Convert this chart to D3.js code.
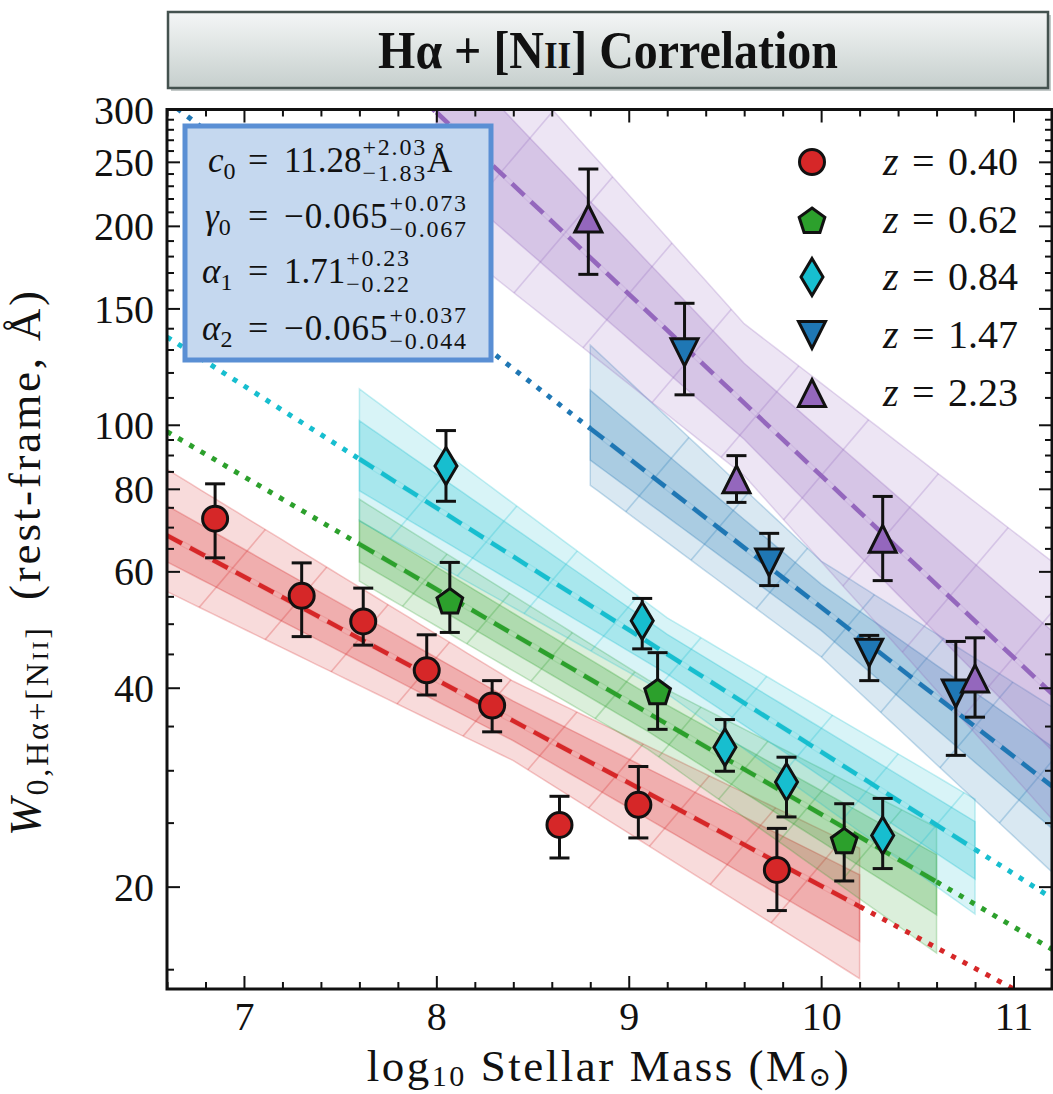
<!DOCTYPE html>
<html>
<head>
<meta charset="utf-8">
<script src="https://cdn.jsdelivr.net/npm/d3@7"></script>
<style>
  body { margin: 0; background: #fff; }
  svg { display: block; }
  text { font-family: "Liberation Serif", "DejaVu Serif", serif; fill: #111; }
</style>
</head>
<body>
<svg id="chart" width="1053" height="1094"></svg>
<script>
// ---------- data ----------
const redshifts = [0.40, 0.62, 0.84, 1.47, 2.23];
const legendLabels = ["0.40", "0.62", "0.84", "1.47", "2.23"];

// binned measurements: log10 stellar mass, equivalent width and its error range (Å)
const massZ040 = [6.85, 7.30, 7.62, 7.95, 8.29, 8.64, 9.05, 9.77];
const ewZ040   = [72.1, 55.1, 50.4, 42.5, 37.6, 24.8, 26.6, 21.2];
const ewHiZ040 = [81.4, 61.8, 56.6, 48.1, 41.0, 27.4, 30.4, 24.5];
const ewLoZ040 = [62.9, 47.8, 46.4, 39.0, 34.3, 22.1, 23.7, 18.4];

const massZ062 = [8.07, 9.15, 10.12];
const ewZ062   = [54.2, 39.5, 23.5];
const ewHiZ062 = [61.9, 45.2, 26.7];
const ewLoZ062 = [48.5, 34.6, 20.4];

const massZ084 = [8.05, 9.07, 9.50, 9.82, 10.32];
const ewZ084   = [86.6, 50.5, 32.5, 28.8, 23.9];
const ewHiZ084 = [98.0, 54.6, 35.8, 31.4, 27.2];
const ewLoZ084 = [76.6, 45.8, 29.9, 25.5, 21.3];

const massZ147 = [9.29, 9.73, 10.25, 10.70];
const ewZ147   = [128.7, 61.9, 45.2, 39.2];
const ewHiZ147 = [152.7, 68.5, 48.0, 47.0];
const ewLoZ147 = [111.0, 57.1, 41.0, 31.6];

const massZ223 = [8.79, 9.56, 10.32, 10.80];
const ewZ223   = [205.2, 82.7, 67.2, 41.3];
const ewHiZ223 = [243.8, 89.8, 77.9, 47.6];
const ewLoZ223 = [168.9, 76.3, 58.1, 36.1];

// fit parameters: W = c0 (1+z)^a1 (M/1e10)^(g0 + a2 (1+z))
const c0 = 11.28, gamma0 = -0.065, alpha1 = 1.71, alpha2 = -0.065;

// mass range over which each fit is constrained (dashed + band); dotted outside
const fitMassLo = [6.6, 7.6, 7.6, 8.8, 8.0];
const fitMassHi = [10.2, 10.6, 10.8, 11.2, 11.2];

// band half-widths in dex at [start, middle, end] of the fit range
const bandOuterHi = [[0.100, 0.060, 0.088], [0.068, 0.050, 0.082], [0.106, 0.055, 0.076], [0.126, 0.070, 0.120], [0.200, 0.120, 0.200]];
const bandInnerHi = [[0.045, 0.030, 0.048], [0.036, 0.028, 0.041], [0.058, 0.030, 0.042], [0.058, 0.035, 0.060], [0.110, 0.060, 0.095]];
const bandInnerLo = [[0.040, 0.030, 0.053], [0.027, 0.028, 0.050], [0.048, 0.030, 0.045], [0.048, 0.035, 0.064], [0.090, 0.055, 0.086]];
const bandOuterLo = [[0.085, 0.060, 0.109], [0.056, 0.055, 0.108], [0.094, 0.060, 0.098], [0.086, 0.075, 0.130], [0.180, 0.110, 0.190]];

// axis ticks
const xMajorTicks = [7, 8, 9, 10, 11];
const xMinorTicks = [6.6, 6.8, 7.2, 7.4, 7.6, 7.8, 8.2, 8.4, 8.6, 8.8, 9.2, 9.4, 9.6, 9.8, 10.2, 10.4, 10.6, 10.8, 11.2];
const yMajorTicks = [20, 40, 60, 80, 100, 150, 200, 250, 300];
const yMinorTicks = [15, 25, 30, 35, 45, 50, 55, 65, 70, 75, 85, 90, 95,
                     110, 120, 130, 140, 160, 170, 180, 190, 210, 220, 230, 240, 260, 270, 280, 290];

// ---------- styling ----------
const colors = ["#d62728", "#2ca02c", "#17becf", "#1f77b4", "#9467bd"];
const markerKinds = ["circle", "pentagon", "thinDiamond", "triDown", "triUp"];

const series = [
  { mass: massZ040, ew: ewZ040, hi: ewHiZ040, lo: ewLoZ040 },
  { mass: massZ062, ew: ewZ062, hi: ewHiZ062, lo: ewLoZ062 },
  { mass: massZ084, ew: ewZ084, hi: ewHiZ084, lo: ewLoZ084 },
  { mass: massZ147, ew: ewZ147, hi: ewHiZ147, lo: ewLoZ147 },
  { mass: massZ223, ew: ewZ223, hi: ewHiZ223, lo: ewLoZ223 }
];

const svg = d3.select("#chart");
const plot = { left: 167, right: 1052, top: 109.5, bottom: 989 };

const x = d3.scaleLinear().domain([6.6, 11.2]).range([plot.left, plot.right]);
const y = d3.scaleLog().domain([14, 300]).range([plot.bottom, plot.top]);

const defs = svg.append("defs");
defs.append("clipPath").attr("id", "plotClip")
  .append("rect").attr("x", plot.left).attr("y", plot.top)
  .attr("width", plot.right - plot.left).attr("height", plot.bottom - plot.top);

// stretch a text horizontally (via letter-spacing) so it spans a given width
function fitWidth(sel, target) {
  const n = sel.text().length;
  const w = sel.node().getComputedTextLength();
  sel.attr("letter-spacing", ((target - w) / Math.max(n - 1, 1)).toFixed(2));
}

// ---------- title banner ----------
const grad = defs.append("linearGradient").attr("id", "titleGrad")
  .attr("x1", 0).attr("y1", 0).attr("x2", 0).attr("y2", 1);
grad.append("stop").attr("offset", "0%").attr("stop-color", "#f4f6f6");
grad.append("stop").attr("offset", "100%").attr("stop-color", "#c6cfcd");

svg.append("rect").attr("x", 171).attr("y", 15).attr("width", 880).attr("height", 76)
  .attr("fill", "#9aa3a2").attr("opacity", 0.6);
svg.append("rect").attr("x", 168).attr("y", 12).attr("width", 880).attr("height", 76)
  .attr("fill", "url(#titleGrad)").attr("stroke", "#44524f").attr("stroke-width", 2.5);
const titleG = svg.append("g");
const title = titleG.append("text").attr("x", 0).attr("y", 0).attr("text-anchor", "middle")
  .attr("font-size", 52).attr("font-weight", "bold");
title.append("tspan").text("Hα + [N");
title.append("tspan").attr("font-size", 38).text("II");
title.append("tspan").text("] Correlation");
{
  const w = title.node().getComputedTextLength();
  titleG.attr("transform", `translate(608,68) scale(${(460 / w).toFixed(3)},1)`);
}

// ---------- model ----------
function logModel(i, m) {
  const zp = 1 + redshifts[i];
  return Math.log10(c0) + alpha1 * Math.log10(zp) + (gamma0 + alpha2 * zp) * (m - 10);
}

const plotG = svg.append("g").attr("clip-path", "url(#plotClip)");

// ---------- uncertainty bands ----------
series.forEach((s, i) => {
  const lo = fitMassLo[i], hi = fitMassHi[i], mid = (lo + hi) / 2;
  const off = arr => d3.scaleLinear().domain([lo, mid, hi]).range(arr).clamp(true);
  const oHi = off(bandOuterHi[i]), iHi = off(bandInnerHi[i]);
  const iLo = off(bandInnerLo[i]), oLo = off(bandOuterLo[i]);
  const ms = d3.range(lo, hi + 1e-9, (hi - lo) / 60);
  const area = (fTop, fBot) => {
    const top = ms.map(m => [x(m), y(Math.pow(10, logModel(i, m) + fTop(m)))]);
    const bot = ms.map(m => [x(m), y(Math.pow(10, logModel(i, m) - fBot(m)))]).reverse();
    return "M" + top.concat(bot).map(p => p.join(",")).join("L") + "Z";
  };
  const g = plotG.append("g");
  const outerPath = area(oHi, oLo);
  const innerPath = area(iHi, iLo);
  defs.append("clipPath").attr("id", "band" + i).append("path").attr("d", outerPath);

  g.append("path").attr("d", outerPath).attr("fill", colors[i]).attr("fill-opacity", 0.17)
    .attr("stroke", colors[i]).attr("stroke-opacity", 0.25).attr("stroke-width", 1.5);
  g.append("path").attr("d", innerPath).attr("fill", colors[i]).attr("fill-opacity", 0.25)
    .attr("stroke", colors[i]).attr("stroke-opacity", 0.28).attr("stroke-width", 1.5);

  // faint transverse seams across the band
  const hatch = g.append("g").attr("clip-path", "url(#band" + i + ")");
  const step = 1 / 3;
  for (let m = lo + step; m < hi - 0.05; m += step) {
    const xc = x(m), yc = y(Math.pow(10, logModel(i, m)));
    const ht = yc - y(Math.pow(10, logModel(i, m) + oHi(m)));
    const hb = y(Math.pow(10, logModel(i, m) - oLo(m))) - yc;
    const k = 0.85;
    hatch.append("line")
      .attr("x1", xc - k * (hb + 20)).attr("y1", yc + hb + 20)
      .attr("x2", xc + k * (ht + 20)).attr("y2", yc - ht - 20)
      .attr("stroke", colors[i]).attr("stroke-opacity", 0.26).attr("stroke-width", 1.6);
  }
  // seam along the centre of the band
  hatch.append("path").attr("d", area(m => 0.004, m => 0.004))
    .attr("fill", "none").attr("stroke", colors[i]).attr("stroke-opacity", 0.12).attr("stroke-width", 1.2);
});

// ---------- fit lines: dashed in fitted range, dotted extrapolation ----------
series.forEach((s, i) => {
  const line = d3.line().x(m => x(m)).y(m => y(Math.pow(10, logModel(i, m))));
  const lo = fitMassLo[i], hi = fitMassHi[i];
  if (lo > 6.6) {
    plotG.append("path").attr("d", line([6.6, lo])).attr("fill", "none")
      .attr("stroke", colors[i]).attr("stroke-width", 5).attr("stroke-dasharray", "5,8");
  }
  if (hi < 11.2) {
    plotG.append("path").attr("d", line([hi, 11.2])).attr("fill", "none")
      .attr("stroke", colors[i]).attr("stroke-width", 5).attr("stroke-dasharray", "5,8");
  }
  plotG.append("path").attr("d", line([lo, hi])).attr("fill", "none")
    .attr("stroke", colors[i]).attr("stroke-width", 4.5).attr("stroke-dasharray", "17,9");
});

// ---------- markers ----------
function markerPath(kind) {
  switch (kind) {
    case "circle": return d3.symbol(d3.symbolCircle, Math.PI * 12.5 * 12.5)();
    case "pentagon": {
      const R = 13.5;
      return "M" + d3.range(5).map(k => {
        const a = (-90 + 72 * k) * Math.PI / 180;
        return [R * Math.cos(a), R * Math.sin(a) + 1.5].join(",");
      }).join("L") + "Z";
    }
    case "thinDiamond": return "M0,-18.5L11,0L0,18.5L-11,0Z";
    case "triDown": return "M-13.5,-13.5L13.5,-13.5L0,13.5Z";
    case "triUp": return "M0,-13.5L13.5,13.5L-13.5,13.5Z";
  }
}

series.forEach((s, i) => {
  const g = svg.append("g");
  s.mass.forEach((m, j) => {
    const xp = x(m);
    g.append("line").attr("x1", xp).attr("x2", xp)
      .attr("y1", y(s.hi[j])).attr("y2", y(s.lo[j]))
      .attr("stroke", "#111").attr("stroke-width", 3);
    [s.hi[j], s.lo[j]].forEach(v => {
      g.append("line").attr("x1", xp - 10).attr("x2", xp + 10)
        .attr("y1", y(v)).attr("y2", y(v))
        .attr("stroke", "#111").attr("stroke-width", 3);
    });
  });
  s.mass.forEach((m, j) => {
    g.append("path").attr("d", markerPath(markerKinds[i]))
      .attr("transform", `translate(${x(m)},${y(s.ew[j])})`)
      .attr("fill", colors[i]).attr("stroke", "#111").attr("stroke-width", 3)
      .attr("stroke-linejoin", "miter");
  });
});

// ---------- axes ----------
const axG = svg.append("g");
function addAxis(gen, tr, major, minor, labels) {
  const gM = axG.append("g").attr("transform", tr)
    .call(gen.tickValues(major).tickSize(-13).tickPadding(13).tickFormat(labels ? d3.format("d") : ""));
  const gm = axG.append("g").attr("transform", tr)
    .call(gen.tickValues(minor).tickSize(-7).tickFormat(""));
  [gM, gm].forEach(g => {
    g.select(".domain").remove();
    g.selectAll(".tick line").attr("stroke", "#111").attr("stroke-width", 2);
  });
  gM.selectAll(".tick text").attr("font-size", 40).attr("fill", "#111")
    .attr("font-family", "'Liberation Serif', serif");
  return gM;
}
addAxis(d3.axisBottom(x), `translate(0,${plot.bottom})`, xMajorTicks, xMinorTicks, true);
addAxis(d3.axisTop(x), `translate(0,${plot.top})`, xMajorTicks, xMinorTicks, false);
const yl = addAxis(d3.axisLeft(y), `translate(${plot.left},0)`, yMajorTicks, yMinorTicks, true);
yl.selectAll(".tick text").attr("dy", "0.34em").attr("x", -13);
addAxis(d3.axisRight(y), `translate(${plot.right},0)`, yMajorTicks, yMinorTicks, false);

svg.append("rect").attr("x", plot.left).attr("y", plot.top)
  .attr("width", plot.right - plot.left).attr("height", plot.bottom - plot.top)
  .attr("fill", "none").attr("stroke", "#111").attr("stroke-width", 3);

// ---------- axis titles ----------
const xl = svg.append("text").attr("x", 609).attr("y", 1081).attr("text-anchor", "middle").attr("font-size", 45);
xl.append("tspan").text("log");
xl.append("tspan").attr("font-size", 30).attr("dy", 5).text("10");
xl.append("tspan").attr("dy", -5).text(" Stellar Mass (M");
xl.append("tspan").attr("font-size", 27).attr("dy", 5).attr("font-family", "'DejaVu Serif', serif").text("⊙");
xl.append("tspan").attr("dy", -5).text(")");
fitWidth(xl, 482);

const ylab = svg.append("text").attr("transform", "translate(40,562) rotate(-90)")
  .attr("text-anchor", "middle").attr("font-size", 45);
ylab.append("tspan").attr("font-style", "italic").text("W");
ylab.append("tspan").attr("font-size", 32).attr("dy", 8).text("0,Hα+[N");
ylab.append("tspan").attr("font-size", 24).text("II");
ylab.append("tspan").attr("font-size", 32).text("]");
ylab.append("tspan").attr("dy", -8).text("\u2002(rest-frame, Å)");
fitWidth(ylab, 545);

// ---------- parameter box ----------
svg.append("rect").attr("x", 185).attr("y", 126).attr("width", 306).attr("height", 234)
  .attr("fill", "#c5d8ef").attr("stroke", "#5a8fd4").attr("stroke-width", 5);

const paramRows = [
  { sym: "c", sub: "0", val: "11.28",  up: "+2.03",  dn: "−1.83",  unit: "Å", x0: 208, base: 172 },
  { sym: "γ", sub: "0", val: "−0.065", up: "+0.073", dn: "−0.067", unit: "",  x0: 205, base: 228 },
  { sym: "α", sub: "1", val: "1.71",   up: "+0.23",  dn: "−0.22",  unit: "",  x0: 202, base: 283 },
  { sym: "α", sub: "2", val: "−0.065", up: "+0.037", dn: "−0.044", unit: "",  x0: 202, base: 340 }
];
paramRows.forEach(r => {
  const t = svg.append("text").attr("x", r.x0).attr("y", r.base).attr("font-size", 35);
  t.append("tspan").attr("font-style", "italic").text(r.sym);
  t.append("tspan").attr("font-size", 24).attr("dy", 7).text(r.sub);
  svg.append("text").attr("x", 248).attr("y", r.base).attr("font-size", 36).text("=");
  const v = svg.append("text").attr("x", 284).attr("y", r.base).attr("font-size", 35)
    .attr("letter-spacing", r.val.startsWith("−") ? 1 : 0).text(r.val);
  const vb = v.node().getBBox();
  const xs = vb.x + vb.width + 1;
  const up = svg.append("text").attr("x", xs).attr("y", r.base - 17).attr("font-size", 24)
    .attr("letter-spacing", 1.8).text(r.up);
  const dn = svg.append("text").attr("x", xs).attr("y", r.base + 9).attr("font-size", 24)
    .attr("letter-spacing", 1.8).text(r.dn);
  if (r.unit) {
    const ws = Math.max(up.node().getBBox().width, dn.node().getBBox().width);
    svg.append("text").attr("x", xs + ws).attr("y", r.base).attr("font-size", 35).text(r.unit);
  }
});

// ---------- legend ----------
const legY = [162, 220, 277, 335, 393];
legendLabels.forEach((lab, i) => {
  svg.append("path").attr("d", markerPath(markerKinds[i]))
    .attr("transform", `translate(812,${legY[i]})`)
    .attr("fill", colors[i]).attr("stroke", "#111").attr("stroke-width", 3);
  const base = legY[i] + 13;
  svg.append("text").attr("x", 883).attr("y", base).attr("font-size", 40)
    .attr("font-style", "italic").text("z");
  svg.append("text").attr("x", 912).attr("y", base).attr("font-size", 40).text("=");
  svg.append("text").attr("x", 948).attr("y", base).attr("font-size", 40).text(lab);
});
</script>
</body>
</html>
